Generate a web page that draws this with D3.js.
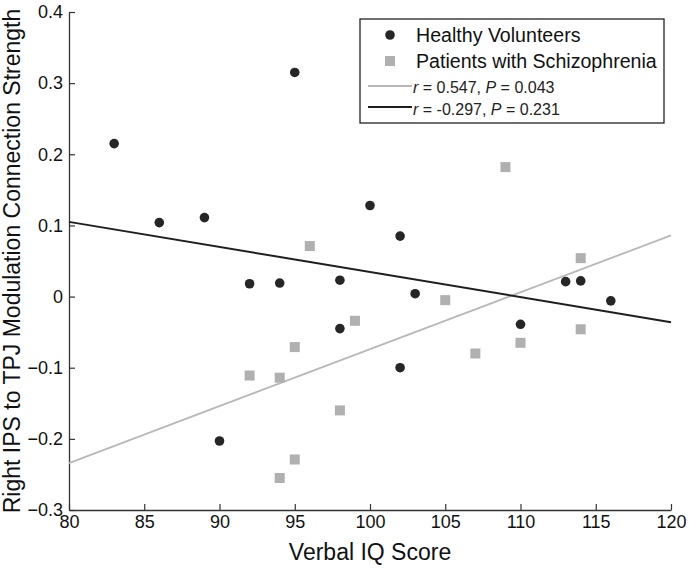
<!DOCTYPE html>
<html>
<head>
<meta charset="utf-8">
<script src="https://cdn.jsdelivr.net/npm/d3@7"></script>
<style>
  body { margin: 0; background: #fff; }
  text { font-family: "Liberation Sans", Arial, sans-serif; }
</style>
</head>
<body>
<div id="chart"></div>
<script>
// Healthy volunteers (black dots)
var healthyIQ = [83, 86, 89, 90, 92, 94, 95, 98, 98, 100, 102, 102, 103, 110, 113, 114, 116];
var healthyConn = [0.215, 0.104, 0.111, -0.203, 0.018, 0.019, 0.315, 0.023, -0.045, 0.128, 0.085, -0.100, 0.004, -0.039, 0.021, 0.022, -0.006];

// Patients with schizophrenia (grey squares)
var patientIQ = [92, 94, 94, 95, 95, 96, 98, 99, 105, 107, 109, 110, 114, 114];
var patientConn = [-0.111, -0.114, -0.255, -0.071, -0.229, 0.071, -0.160, -0.034, -0.005, -0.080, 0.182, -0.065, 0.054, -0.046];

// fitted lines, values at the x ends
var fitX = [80, 120];
var patientFitY = [-0.234, 0.086];
var healthyFitY = [0.105, -0.036];

var xTicks = [80, 85, 90, 95, 100, 105, 110, 115, 120];
var yTicks = [-0.3, -0.2, -0.1, 0, 0.1, 0.2, 0.3, 0.4];

var W = 690, H = 568;
var margin = { top: 12, right: 19, bottom: 58, left: 69 };
var width = W - margin.left - margin.right,
    height = H - margin.top - margin.bottom;

var svg = d3.select("#chart").append("svg")
  .attr("width", W).attr("height", H);
var g = svg.append("g")
  .attr("transform", "translate(" + margin.left + "," + margin.top + ")");

var x = d3.scaleLinear().domain([80, 120]).range([0, width]);
var y = d3.scaleLinear().domain([-0.3, 0.4]).range([height, 0]);

// axes: ticks point inwards, like matlab
var xAxis = d3.axisBottom(x).tickValues(xTicks).tickSizeInner(-6).tickSizeOuter(0).tickPadding(5);
var yAxis = d3.axisLeft(y).tickValues(yTicks).tickSizeInner(-6).tickSizeOuter(0).tickPadding(6)
  .tickFormat(function(d) { return d === 0 ? "0" : d3.format(".1f")(d); });

var gx = g.append("g").attr("transform", "translate(0," + height + ")").call(xAxis);
var gy = g.append("g").call(yAxis);
[gx, gy].forEach(function(a) {
  a.select(".domain").attr("stroke", "#333").attr("stroke-width", 1.3);
  a.selectAll(".tick line").attr("stroke", "#333").attr("stroke-width", 1.2);
  a.selectAll(".tick text").attr("fill", "#111").style("font-size", "18px");
});

// fit lines
var line = d3.line().x(function(d) { return x(d[0]); }).y(function(d) { return y(d[1]); });
g.append("path")
  .datum(fitX.map(function(v, i) { return [v, patientFitY[i]]; }))
  .attr("d", line).attr("fill", "none").attr("stroke", "#b8b8b8").attr("stroke-width", 1.8);
g.append("path")
  .datum(fitX.map(function(v, i) { return [v, healthyFitY[i]]; }))
  .attr("d", line).attr("fill", "none").attr("stroke", "#1e1e1e").attr("stroke-width", 2);

// points
var sq = 10;
g.selectAll(".patient")
  .data(patientIQ)
  .enter().append("rect")
  .attr("class", "patient")
  .attr("x", function(d) { return x(d) - sq / 2; })
  .attr("y", function(d, i) { return y(patientConn[i]) - sq / 2; })
  .attr("width", sq).attr("height", sq)
  .attr("fill", "#b0b0b0");

g.selectAll(".healthy")
  .data(healthyIQ)
  .enter().append("circle")
  .attr("class", "healthy")
  .attr("cx", function(d) { return x(d); })
  .attr("cy", function(d, i) { return y(healthyConn[i]); })
  .attr("r", 4.8)
  .attr("fill", "#262626");

// axis labels
svg.append("text")
  .attr("x", margin.left + width / 2).attr("y", 560)
  .attr("text-anchor", "middle")
  .style("font-size", "23px").attr("fill", "#111")
  .text("Verbal IQ Score");
svg.append("text")
  .attr("transform", "translate(20," + (margin.top + height / 2) + ") rotate(-90)")
  .attr("text-anchor", "middle")
  .style("font-size", "23px").attr("fill", "#111")
  .text("Right IPS to TPJ Modulation Connection Strength");

// legend
var lg = svg.append("g").attr("transform", "translate(360,19)");
lg.append("rect").attr("width", 304).attr("height", 104)
  .attr("fill", "#fff").attr("stroke", "#222").attr("stroke-width", 1.3);
lg.append("circle").attr("cx", 30).attr("cy", 16).attr("r", 4.8).attr("fill", "#262626");
lg.append("rect").attr("x", 25).attr("y", 37).attr("width", sq).attr("height", sq).attr("fill", "#b0b0b0");
lg.append("line").attr("x1", 8).attr("x2", 52).attr("y1", 67).attr("y2", 67)
  .attr("stroke", "#b8b8b8").attr("stroke-width", 1.8);
lg.append("line").attr("x1", 8).attr("x2", 52).attr("y1", 88).attr("y2", 88)
  .attr("stroke", "#1e1e1e").attr("stroke-width", 2);

var legendNames = ["Healthy Volunteers", "Patients with Schizophrenia"];
lg.selectAll(".lname").data(legendNames).enter().append("text")
  .attr("class", "lname")
  .attr("x", 56).attr("y", function(d, i) { return 23 + i * 26; })
  .style("font-size", "19.6px").attr("fill", "#111")
  .text(function(d) { return d; });

var stats = [["0.547", "0.043"], ["-0.297", "0.231"]];
stats.forEach(function(s, i) {
  var t = lg.append("text").attr("x", 53).attr("y", 74 + i * 22)
    .style("font-size", "16px").attr("fill", "#222");
  t.append("tspan").style("font-style", "italic").text("r");
  t.append("tspan").text(" = " + s[0] + ", ");
  t.append("tspan").style("font-style", "italic").text("P");
  t.append("tspan").text(" = " + s[1]);
});
</script>
</body>
</html>
